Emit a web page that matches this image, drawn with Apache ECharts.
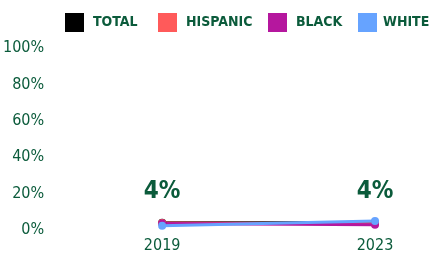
<!DOCTYPE html>
<html><head><meta charset="utf-8">
<script src="https://cdn.jsdelivr.net/npm/echarts@6/dist/echarts.min.js"></script>
<style>html,body{margin:0;padding:0;background:#fff}#c{width:432px;height:257px}</style>
</head><body><div id="c"></div>
<script>
var years = ['2019', '2023'];
var total = [4, 4];
var hispanic = [3.8, 3.4];
var black = [3.6, 2.9];
var white = [2.4, 5.0];
var yTicks = [0, 20, 40, 60, 80, 100];
var legendNames = ['Total', 'Hispanic', 'Black', 'White'];

var FONT = '"DejaVu Sans Condensed", sans-serif';
var TXT = '#0b5b3b';
function s(name, data, color, withLabel) {
  return {
    name: name, type: 'line', data: data,
    symbol: 'circle', symbolSize: 8,
    lineStyle: { width: 3, color: color },
    itemStyle: { color: color },
    label: withLabel ? {
      show: true, position: 'top', distance: 15,
      formatter: '{c}%', fontFamily: FONT, fontWeight: 'bold', fontSize: 24, color: TXT
    } : { show: false }
  };
}
var legendLefts = [65, 158, 268, 358];
var legends = legendNames.map(function (n, i) {
  return {
    top: 13, left: legendLefts[i], itemWidth: 19, itemHeight: 19, itemGap: 0, icon: 'rect',
    padding: 0,
    textStyle: { fontFamily: FONT, fontWeight: 'bold', fontSize: 14, color: TXT,
      padding: [0, 0, 0, i === 3 ? 1 : 4] },
    formatter: function (x) { return x.toUpperCase(); },
    data: [n]
  };
});
var chart = echarts.init(document.getElementById('c'));
chart.setOption({
  animation: false,
  legend: legends,
  grid: { left: 160, right: 57, top: 48, bottom: 27 },
  xAxis: {
    type: 'category', data: years, boundaryGap: false,
    axisLine: { show: false }, axisTick: { show: false },
    axisLabel: { fontFamily: FONT, fontSize: 16, color: TXT, margin: 8 }
  },
  yAxis: {
    type: 'value', min: 0, max: 100, interval: 20,
    splitLine: { show: false }, axisLine: { show: false }, axisTick: { show: false },
    axisLabel: { fontFamily: FONT, fontSize: 16, color: TXT, margin: 118,
      formatter: function (v) { return yTicks.indexOf(v) >= 0 ? v + '%' : ''; } }
  },
  series: [
    s('Total', total, '#000000', true),
    s('Hispanic', hispanic, '#ff5a5a', false),
    s('Black', black, '#b5179e', false),
    s('White', white, '#66a3ff', false)
  ]
});
</script></body></html>
